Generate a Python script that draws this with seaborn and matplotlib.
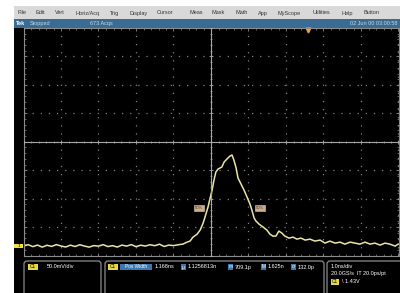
import numpy as np
import matplotlib
matplotlib.use("Agg")
import matplotlib.pyplot as plt
from matplotlib.patches import Rectangle, FancyBboxPatch
import seaborn as sns

# ----- trace (time in ns, amplitude in mV) -----
base_time = [-5.0, -4.875, -4.75, -4.625, -4.5, -4.375, -4.25, -4.125, -4.0, -3.875,
             -3.75, -3.625, -3.5, -3.375, -3.25, -3.125, -3.0, -2.875, -2.75, -2.625,
             -2.5, -2.375, -2.25, -2.125, -2.0, -1.875, -1.75, -1.625, -1.5, -1.375,
             -1.25, -1.125, -1.0, -0.875]
base_mv = [0.0, 2.5, -0.9, 1.8, -1.8, 1.5, -0.5, 2.6, 0.2, -1.6,
           1.7, -0.7, 2.4, 0.1, -1.8, 0.9, 0.0, 2.6, -0.8, 0.8,
           -1.7, 1.8, 0.0, 2.6, -0.9, 1.6, 0.1, 2.5, 0.7, 3.4,
           -0.6, 1.8, 0.9, 2.4]
pulse_time = [-0.75, -0.64, -0.56, -0.48, -0.37, -0.29, -0.21, -0.16, -0.08, -0.03,
              0.03, 0.08, 0.13, 0.19, 0.24, 0.29, 0.35, 0.40, 0.45, 0.51,
              0.56, 0.61, 0.67, 0.72, 0.80, 0.88, 0.96, 1.04, 1.09, 1.15,
              1.20, 1.28, 1.39, 1.49, 1.57, 1.65, 1.73, 1.81, 1.89, 1.97,
              2.08, 2.19, 2.29, 2.40, 2.51, 2.64, 2.77, 2.91, 3.04, 3.17,
              3.31, 3.44, 3.57, 3.71, 3.84, 3.97, 4.11, 4.24, 4.37, 4.51,
              4.64, 4.77, 4.91, 4.99]
pulse_mv = [3.5, 7.0, 8.8, 15.8, 21.1, 28.2, 40.5, 51.0, 68.6, 82.7,
            98.6, 116.2, 130.3, 135.6, 137.3, 139.1, 147.9, 151.4, 154.9, 158.5,
            160.2, 151.4, 137.3, 119.7, 109.2, 98.6, 86.3, 73.9, 63.4, 49.3,
            44.0, 38.7, 33.5, 28.2, 21.1, 17.6, 17.6, 26.4, 22.9, 17.6,
            14.1, 15.8, 12.3, 14.1, 10.6, 12.3, 8.8, 10.6, 5.3, 8.8,
            5.3, 7.0, 3.5, 7.0, 5.3, 3.5, 7.0, 3.5, 5.3, 1.8,
            5.3, 3.5, 0.0, 3.5]

cursor_time = [-0.32, 1.31]
cursor_mv = [67.0, 67.0]
trigger_time = 2.6

volts_per_div = 50.0
ns_per_div = 1.0
ground_offset_div = 0.33

menu_items = ["File", "Edit", "Vert", "Horiz/Acq", "Trig", "Display", "Cursor", "Meas",
              "Mask", "Math", "App", "MyScope", "Utilities", "Help", "Button"]
menu_x = [18, 36, 55, 75, 110, 130, 157, 189, 212, 235, 258, 277, 313, 342, 363]

t = np.array(base_time + pulse_time)
v = np.array(base_mv + pulse_mv)

plt.rcParams['font.family'] = ['Liberation Sans', 'DejaVu Sans']
fig = plt.figure(figsize=(4, 2.93), dpi=100)
fig.patch.set_facecolor("white")

# screen chrome drawn in pixel coordinates
bg = fig.add_axes([0, 0, 1, 1])
bg.set_xlim(0, 400)
bg.set_ylim(293, 0)
bg.axis("off")
bg.add_patch(Rectangle((14, 6), 386, 13, color="#d9d9d9", lw=0))
bg.add_patch(Rectangle((14, 19), 386, 8.5, color="#3a6b92", lw=0))
bg.add_patch(Rectangle((14, 27.5), 386, 266, color="black", lw=0))
for name, x in zip(menu_items, menu_x):
    bg.text(x, 13, name, fontsize=4.0, color="#333333", va="center", ha="left")
bg.text(16, 23.2, "Tek", fontsize=4, color="white", weight="bold", va="center")
bg.text(30, 23.2, "Stopped", fontsize=4, color="#c8d6e2", va="center")
bg.text(90, 23.2, "673 Acqs", fontsize=4, color="#c8d6e2", va="center")
bg.text(398, 23.2, "02 Jun 00 03:00:58", fontsize=4, color="#c8d6e2", va="center", ha="right")

# bottom readout boxes
for x0, w in [(24, 77), (105, 219), (327, 78)]:
    bg.add_patch(FancyBboxPatch((x0, 261), w, 40, boxstyle="round,pad=0,rounding_size=3",
                                facecolor="black", edgecolor="#8c8c8c", lw=0.9))


def badge(x, y, w, txt, fc, tc):
    bg.add_patch(Rectangle((x, y - 3), w, 6, color=fc, lw=0))
    bg.text(x + w / 2, y, txt, fontsize=3.4, color=tc, ha="center", va="center")


badge(28, 267, 10, "C1", "#e6d64a", "black")
bg.text(47, 267, "50.0mV/div", fontsize=4, color="white", va="center")
badge(108, 267, 10, "C1", "#e6d64a", "black")
badge(120, 267, 32, "Pos Width", "#3a78b0", "white")
bg.text(155, 267, "1.168ns", fontsize=4, color="white", va="center")
badge(181, 267, 5, "\u03bc", "#3a78b0", "white")
bg.text(188, 267, "1.1256813n", fontsize=4, color="white", va="center")
badge(228, 267, 5, "m", "#3a78b0", "white")
bg.text(235, 267, "709.1p", fontsize=4, color="white", va="center")
badge(261, 267, 5, "M", "#3a78b0", "white")
bg.text(268, 267, "1.625n", fontsize=4, color="white", va="center")
badge(291, 267, 5, "\u03c3", "#3a78b0", "white")
bg.text(298, 267, "132.0p", fontsize=4, color="white", va="center")
bg.text(331, 266, "1.0ns/div", fontsize=4, color="white", va="center")
bg.text(331, 274, "20.0GS/s  IT 20.0ps/pt", fontsize=4, color="white", va="center")
badge(331, 281.5, 8, "C1", "#e6d64a", "black")
bg.text(342, 281.5, "\\ 1.43V", fontsize=4, color="white", va="center")

# graticule
left, right, top, bottom = 23.5, 398.5, 28.0, 255.5
rect = [left / 400, 1 - bottom / 293, (right - left) / 400, (bottom - top) / 293]
ax = fig.add_axes(rect)
ax.set_facecolor("none")
ylo = -ground_offset_div * volts_per_div
ax.set_xlim(-5 * ns_per_div, 5 * ns_per_div)
ax.set_ylim(ylo, ylo + 8 * volts_per_div)
ax.set_xticks(np.arange(-5, 6) * ns_per_div)
ax.set_yticks(ylo + np.arange(9) * volts_per_div)
ax.set_xticks(np.arange(-5, 5.01, 0.2) * ns_per_div, minor=True)
ax.set_yticks(ylo + np.arange(0, 8.01, 0.2) * volts_per_div, minor=True)
ax.grid(True, which="major", color="#808080", linestyle=(0, (1, 5.5)), linewidth=0.9)
ax.tick_params(which="both", direction="in", colors="#8c8c8c", labelbottom=False,
               labelleft=False, top=True, right=True)
ax.tick_params(which="major", length=2.2, width=0.6)
ax.tick_params(which="minor", length=1.3, width=0.5)
for s in ax.spines.values():
    s.set_color("#8c8c8c")
    s.set_linewidth(0.8)

# centre cross with ticks
cx = fig.add_axes(rect, sharex=ax, sharey=ax)
cx.set_facecolor("none")
cx.spines["left"].set_position(("data", 0))
cx.spines["bottom"].set_position(("data", ylo + 4 * volts_per_div))
cx.spines["top"].set_visible(False)
cx.spines["right"].set_visible(False)
for s in ["left", "bottom"]:
    cx.spines[s].set_color("#a8a8a8")
    cx.spines[s].set_linewidth(0.8)
cx.tick_params(which="both", direction="inout", colors="#a8a8a8", labelbottom=False,
               labelleft=False)
cx.tick_params(which="major", length=3, width=0.6)
cx.tick_params(which="minor", length=2, width=0.5)

sns.lineplot(x=t, y=v, ax=ax, color="#e9e5a8", linewidth=1.1, sort=False, estimator=None)
ax.set_xlabel("")
ax.set_ylabel("")

# measurement cursor labels
for ct, cv in zip(cursor_time, cursor_mv):
    ax.text(ct, cv, "50%", fontsize=3, color="#3a2a10", ha="center", va="center",
            bbox=dict(boxstyle="square,pad=0.3", fc="#cbae90", ec="#e0c8a8", lw=0.4))

# trigger and ground markers
ax.plot([trigger_time], [ylo + 8 * volts_per_div - 3], marker="v", color="#f0a030",
        markersize=3.5, clip_on=False)
gtrans = ax.get_yaxis_transform()
ax.add_patch(Rectangle((-0.025, -3.5), 0.024, 7, transform=gtrans, color="#f0e040",
                       clip_on=False, lw=0))
ax.text(-0.013, 0, "1", transform=gtrans, fontsize=3.2, color="black",
        ha="center", va="center", clip_on=False)

fig.savefig("out.png", dpi=100)
